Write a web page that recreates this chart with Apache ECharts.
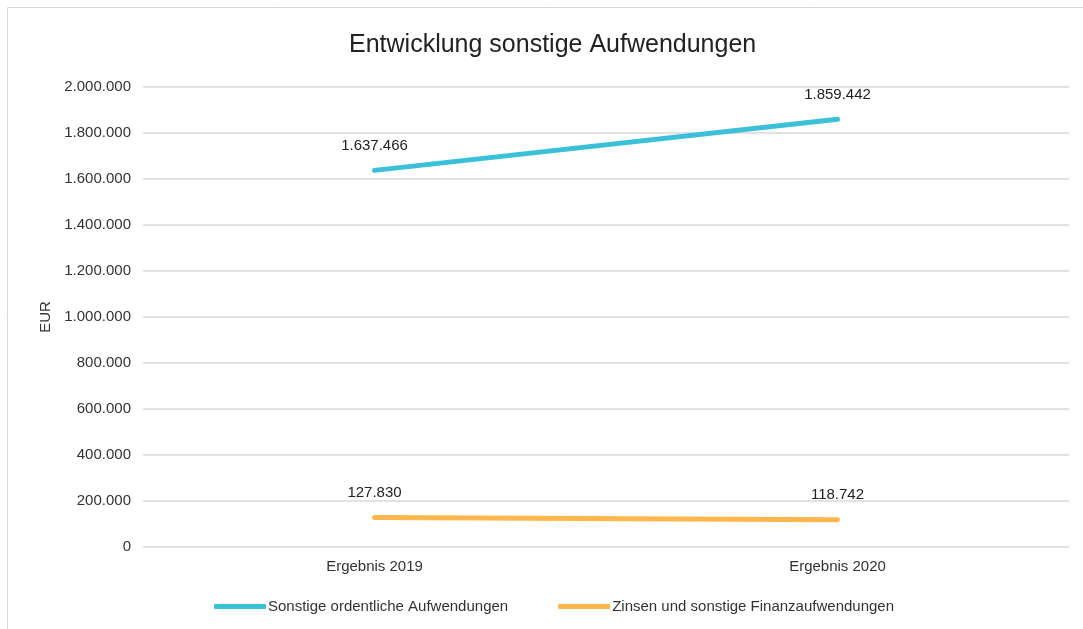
<!DOCTYPE html>
<html><head><meta charset="utf-8">
<script src="https://cdn.jsdelivr.net/npm/echarts@6/dist/echarts.min.js"></script>
<style>html,body{margin:0;padding:0;background:#fff}#c{width:1083px;height:629px}</style>
</head><body><div id="c"></div>
<script>
const categories = ['Ergebnis 2019', 'Ergebnis 2020'];
const sonstigeOrdentliche = [1637466, 1859442];
const zinsenFinanz = [127830, 118742];
const seriesNames = ['Sonstige ordentliche Aufwendungen', 'Zinsen und sonstige Finanzaufwendungen'];
const fmt = v => String(Math.round(v)).replace(/\B(?=(\d{3})+(?!\d))/g, '.');
const font = 'Liberation Sans, Arial, sans-serif';
const chart = echarts.init(document.getElementById('c'));
chart.setOption({
  animation: false,
  textStyle: { fontFamily: font },
  title: { text: 'Entwicklung sonstige Aufwendungen', left: 344, top: 28,
    textStyle: { fontFamily: font, fontSize: 25, fontWeight: 'normal', color: '#222' } },
  graphic: [{ type: 'rect', shape: { x: 7.5, y: 7.5, width: 1200, height: 800 }, silent: true,
    style: { fill: 'none', stroke: '#d9d9d9', lineWidth: 1 } }],
  grid: { left: 143, right: 14, top: 87, bottom: 82, containLabel: false },
  legend: { top: 594, left: 209, itemWidth: 52, itemHeight: 5, itemGap: 50, icon: 'roundRect',
    textStyle: { fontFamily: font, fontSize: 15, color: '#333', padding: [0, 0, 0, -3] },
    data: seriesNames },
  xAxis: { type: 'category', data: categories, boundaryGap: true,
    axisLine: { show: false }, axisTick: { show: false },
    axisLabel: { fontSize: 15, color: '#333', margin: 12 } },
  yAxis: { type: 'value', min: 0, max: 2000000, interval: 200000,
    name: 'EUR', nameLocation: 'middle', nameGap: 88, nameRotate: 90,
    nameTextStyle: { fontSize: 15, color: '#333' },
    axisLabel: { fontSize: 15, color: '#333', margin: 12, formatter: fmt },
    axisLine: { show: false }, axisTick: { show: false },
    splitLine: { lineStyle: { color: '#d9d9d9', width: 1.5 } } },
  series: [
    { name: seriesNames[0], type: 'line', data: sonstigeOrdentliche, symbol: 'circle', symbolSize: 0,
      lineStyle: { color: '#3bc0d8', width: 5, cap: 'round' }, itemStyle: { color: '#3bc0d8' },
      label: { show: true, position: 'top', distance: 17, formatter: p => fmt(p.value), fontSize: 15, color: '#222' } },
    { name: seriesNames[1], type: 'line', data: zinsenFinanz, symbol: 'circle', symbolSize: 0,
      lineStyle: { color: '#ffb74d', width: 5, cap: 'round' }, itemStyle: { color: '#ffb74d' },
      label: { show: true, position: 'top', distance: 17, formatter: p => fmt(p.value), fontSize: 15, color: '#222' } }
  ]
});
</script></body></html>
